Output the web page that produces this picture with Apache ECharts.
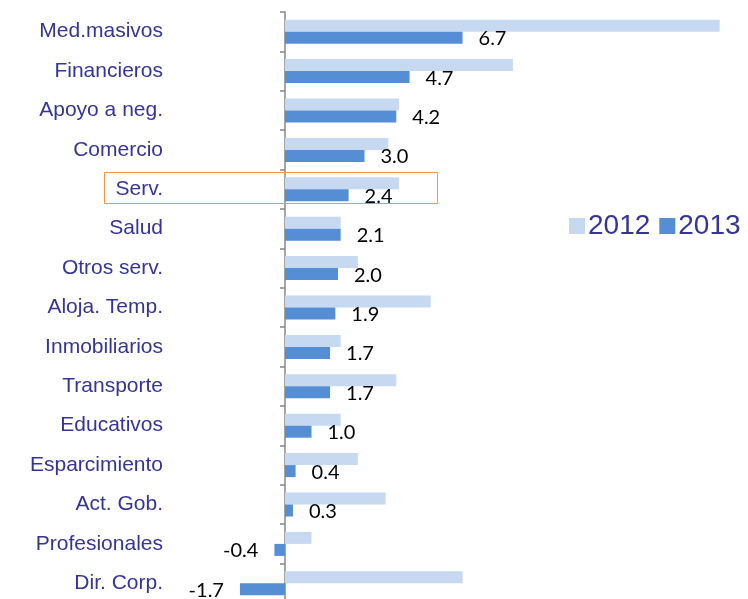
<!DOCTYPE html>
<html>
<head>
<meta charset="utf-8">
<script src="https://cdn.jsdelivr.net/npm/echarts@6/dist/echarts.min.js"></script>
<style>
  html, body { margin: 0; padding: 0; background: #fff; }
  #chart { width: 748px; height: 599px; }
</style>
</head>
<body>
<div id="chart"></div>
<script>
var categories = ['Med.masivos', 'Financieros', 'Apoyo a neg.', 'Comercio', 'Serv.', 'Salud',
    'Otros serv.', 'Aloja. Temp.', 'Inmobiliarios', 'Transporte', 'Educativos',
    'Esparcimiento', 'Act. Gob.', 'Profesionales', 'Dir. Corp.'];
var values2012 = [16.4, 8.6, 4.3, 3.9, 4.3, 2.1, 2.75, 5.5, 2.1, 4.2, 2.1, 2.75, 3.8, 1.0, 6.7];
var values2013 = [6.7, 4.7, 4.2, 3.0, 2.4, 2.1, 2.0, 1.9, 1.7, 1.7, 1.0, 0.4, 0.3, -0.4, -1.7];
var highlighted = 'Serv.';

var labelColor = '#34349a';

var chart = echarts.init(document.getElementById('chart'));

var option = {
    animation: false,
    legend: {
        data: ['2012', '2013'],
        left: 564,
        top: 207,
        itemWidth: 16,
        itemHeight: 16,
        itemGap: 9,
        icon: 'rect',
        textStyle: {
            fontFamily: 'Liberation Sans',
            fontSize: 28,
            color: labelColor,
            padding: [0, 0, 0, -2]
        }
    },
    grid: {
        left: 232,
        top: 12,
        width: 503.5,
        height: 591,
        containLabel: false,
        outerBoundsMode: 'none'
    },
    xAxis: {
        type: 'value',
        min: -2,
        max: 17,
        show: false,
        splitLine: { show: false }
    },
    yAxis: {
        type: 'category',
        inverse: true,
        data: categories,
        offset: -53,   // put the axis on the zero line, ticks and labels with it
        axisLine: {
            onZero: false,
            lineStyle: { color: '#878787', width: 1.5 }
        },
        axisTick: {
            show: true,
            length: 5,
            lineStyle: { color: '#878787', width: 1.5 }
        },
        axisLabel: {
            margin: 122,
            fontFamily: 'Liberation Sans',
            fontSize: 21,
            color: labelColor
        }
    },
    series: [
        {
            name: '2012',
            type: 'bar',
            data: values2012,
            barWidth: 12,
            barGap: '0%',
            itemStyle: { color: '#c6d9f1' }
        },
        {
            name: '2013',
            type: 'bar',
            barWidth: 12,
            barGap: '0%',
            itemStyle: { color: '#558ed5' },
            data: values2013.map(function (v) {
                return {
                    value: v,
                    label: { position: v < 0 ? 'left' : 'right' }
                };
            }),
            label: {
                show: true,
                distance: 16,
                offset: [0, 1],
                fontFamily: 'Lato',
                fontSize: 20,
                color: '#000',
                formatter: function (p) { return p.value.toFixed(1); }
            }
        }
    ]
};
chart.setOption(option);

// orange highlight box around the "Serv." row
var cy = chart.convertToPixel({ yAxisIndex: 0 }, highlighted);
chart.setOption({
    graphic: [{
        type: 'rect',
        shape: { x: 104.5, y: Math.round(cy) - 16.5, width: 333, height: 31 },
        style: { fill: 'none', stroke: '#f79646', lineWidth: 1 },
        z: 10
    }]
});
</script>
</body>
</html>
